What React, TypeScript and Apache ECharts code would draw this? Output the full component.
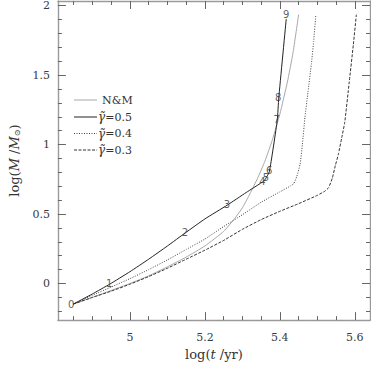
import React, { useEffect, useRef } from "react";
import * as echarts from "echarts";

// ---- data (log t [yr], log M [Msun]) ----
const tMajor = [5, 5.2, 5.4, 5.6];
const tMinor = [4.85, 4.9, 4.95, 5.05, 5.1, 5.15, 5.25, 5.3, 5.35, 5.45, 5.5, 5.55];
const mMajor = [0, 0.5, 1, 1.5, 2];
const mMinor = [-0.2, -0.1, 0.1, 0.2, 0.3, 0.4, 0.6, 0.7, 0.8, 0.9, 1.1, 1.2, 1.3, 1.4, 1.6, 1.7, 1.8, 1.9];

const nmCurve: [number, number][] = [
  [4.849, -0.148], [4.9, -0.1], [4.95, -0.05], [5.0, 0.0], [5.05, 0.055], [5.1, 0.12],
  [5.15, 0.19], [5.2, 0.27], [5.25, 0.375], [5.28, 0.47], [5.3, 0.545], [5.32, 0.645],
  [5.34, 0.755], [5.36, 0.88], [5.38, 1.035], [5.4, 1.22], [5.42, 1.45], [5.435, 1.66],
  [5.45, 1.936],
];
const g05Curve: [number, number][] = [
  [4.849, -0.148], [4.9, -0.075], [4.946, -0.005], [5.0, 0.085], [5.05, 0.175], [5.1, 0.27],
  [5.148, 0.365], [5.2, 0.465], [5.26, 0.565], [5.31, 0.655], [5.357, 0.737], [5.362, 0.755],
  [5.372, 0.805], [5.393, 1.175], [5.397, 1.335], [5.417, 1.905],
];
const g05Points: [number, number, string][] = [
  [4.845, -0.157, "0"], [4.946, -0.005, "1"], [5.148, 0.365, "2"], [5.26, 0.565, "3"],
  [5.355, 0.728, "4"], [5.364, 0.762, "5"], [5.373, 0.81, "6"], [5.393, 1.175, "7"],
  [5.397, 1.335, "8"], [5.418, 1.93, "9"],
];
const g04Curve: [number, number][] = [
  [4.849, -0.148], [4.9, -0.085], [4.95, -0.025], [5.0, 0.035], [5.05, 0.1], [5.1, 0.17],
  [5.15, 0.245], [5.2, 0.32], [5.25, 0.41], [5.3, 0.495], [5.35, 0.585], [5.4, 0.66],
  [5.43, 0.705], [5.437, 0.72], [5.445, 0.77], [5.454, 0.86], [5.46, 1.0], [5.467, 1.2],
  [5.475, 1.38], [5.484, 1.58], [5.49, 1.74], [5.496, 1.936],
];
const g03Curve: [number, number][] = [
  [4.849, -0.148], [4.9, -0.1], [4.95, -0.055], [5.0, -0.005], [5.05, 0.05], [5.1, 0.11],
  [5.15, 0.175], [5.2, 0.24], [5.25, 0.31], [5.3, 0.39], [5.35, 0.46], [5.4, 0.52],
  [5.45, 0.575], [5.5, 0.635], [5.52, 0.665], [5.53, 0.69], [5.54, 0.76], [5.548, 0.85],
  [5.556, 0.93], [5.565, 1.05], [5.573, 1.16], [5.585, 1.45], [5.596, 1.72], [5.604, 1.936],
];
const legendLabels = ["N&M", "0.5", "0.4", "0.3"];

const SERIF = "DejaVu Serif";
const FRAME = "#9a9a9a";
const TICK = "#666";

export default function App() {
  const ref = useRef<HTMLDivElement>(null);
  useEffect(() => {
    if (!ref.current) return;
    const chart = echarts.init(ref.current, null, { renderer: "svg" });
    const X_MIN = 4.8079, X_MAX = 5.6404, Y_MIN = -0.2634, Y_MAX = 2.034;
    const fmt = (v: number) => String(+(+v).toFixed(2));
    const mkAx = (min: number, max: number) => (pos: string, vals: number[], len: number, labels: boolean, line: boolean, margin = 8) => ({
      type: "value", position: pos, min, max,
      axisLine: { show: line, onZero: false, lineStyle: { color: FRAME, width: 1.4 } },
      axisTick: { show: true, inside: true, length: len, customValues: vals, lineStyle: { color: TICK, width: 1 } },
      axisLabel: labels
        ? { show: true, customValues: vals, formatter: fmt, margin, fontFamily: SERIF, fontSize: 11, color: "#3a3a3a" }
        : { show: false },
      splitLine: { show: false },
    });
    const xAx = mkAx(X_MIN, X_MAX);
    const yAx = mkAx(Y_MIN, Y_MAX);
    const xAxes: any[] = [
      { ...xAx("bottom", tMajor, 8, true, true, 12), name: "{n|log(}{i|t}{n| /yr)}", nameLocation: "middle", nameGap: 24,
        nameTextStyle: { rich: { n: { fontFamily: SERIF, fontSize: 13, color: "#333" }, i: { fontFamily: SERIF, fontStyle: "italic", fontSize: 13, color: "#333" } } } },
      xAx("bottom", tMinor, 4, false, false),
      xAx("top", tMajor, 8, false, true),
      xAx("top", tMinor, 4, false, false),
    ];
    const yAxes: any[] = [
      { ...yAx("left", mMajor, 8, true, true, 8), name: "{n|log(}{i|M}{n| /}{i|M}{s|⊙}{n|)}", nameLocation: "middle", nameGap: 33, nameRotate: 90,
        nameTextStyle: { rich: {
          n: { fontFamily: SERIF, fontSize: 13, color: "#333" },
          i: { fontFamily: SERIF, fontStyle: "italic", fontSize: 13, color: "#333" },
          s: { fontFamily: SERIF, fontSize: 8, color: "#333", verticalAlign: "bottom", padding: [6, 0, 0, 0] },
        } } },
      yAx("left", mMinor, 4, false, false),
      yAx("right", mMajor, 8, false, true),
      yAx("right", mMinor, 4, false, false),
    ];
    const lineSeries = (name: string, data: [number, number][], color: string, type: any, width: number) => ({
      name, type: "line", data, showSymbol: false, symbol: "none", smooth: 0.15,
      lineStyle: { color, width, type }, z: 3,
    });
    const rows = [100, 117, 133.5, 150];
    const styles = [
      { stroke: "#a8a8a8", lineWidth: 1 },
      { stroke: "#222", lineWidth: 1 },
      { stroke: "#444", lineWidth: 1, lineDash: [1, 1.5] },
      { stroke: "#333", lineWidth: 1, lineDash: [3, 1.5] },
    ];
    const graphic: any[] = [];
    rows.forEach((y, i) => {
      graphic.push({ type: "line", shape: { x1: 74, y1: y, x2: 97, y2: y }, style: styles[i] });
      if (i === 0) {
        graphic.push({ type: "text", x: 102, y, style: { text: legendLabels[0], fontFamily: SERIF, fontSize: 11, fill: "#333", verticalAlign: "middle" } });
      } else {
        graphic.push({ type: "text", x: 98, y, style: {
          text: "{g|γ̃}{t|=" + legendLabels[i] + "}", verticalAlign: "middle",
          rich: {
            g: { fontFamily: SERIF, fontStyle: "italic", fontSize: 12, fill: "#333" },
            t: { fontFamily: SERIF, fontSize: 11, fill: "#333" },
          },
        } });
      }
    });
    chart.setOption({
      animation: false,
      grid: { left: 42, right: 1, top: 1, bottom: 36, containLabel: false },
      xAxis: xAxes,
      yAxis: yAxes,
      graphic,
      series: [
        lineSeries("N&M", nmCurve, "#a8a8a8", "solid", 1),
        lineSeries("0.4", g04Curve, "#444", [1, 1.5], 1),
        lineSeries("0.3", g03Curve, "#333", [3, 1.5], 1),
        lineSeries("0.5", g05Curve, "#222", "solid", 1),
        {
          type: "scatter", data: g05Points, symbolSize: 1, itemStyle: { color: "rgba(0,0,0,0)" }, z: 4,
          label: {
            show: true, position: [0, 0], align: "center", verticalAlign: "middle",
            formatter: (p: any) => p.value[2], fontFamily: "DejaVu Sans", fontSize: 10,
            color: "#333", textBorderWidth: 0,
          },
          emphasis: { disabled: true },
        },
      ],
    });
    return () => chart.dispose();
  }, []);
  return <div ref={ref} style={{ position: "absolute", left: 0, top: 0, width: 371, height: 366 }} />;
}
